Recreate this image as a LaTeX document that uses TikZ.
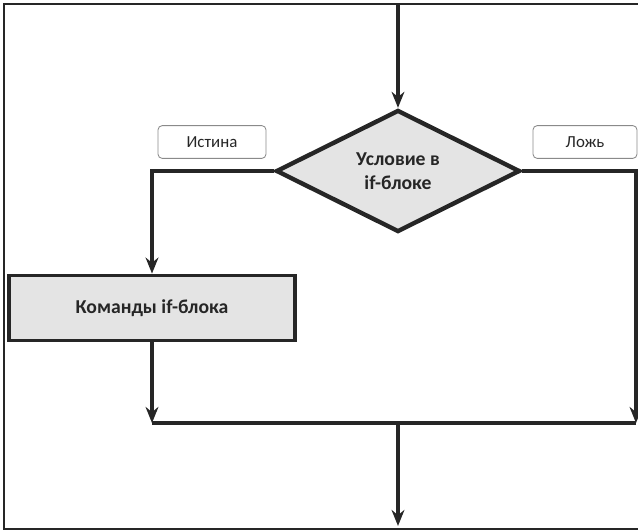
\documentclass[tikz,border=0pt]{standalone}
\usepackage{fontspec}
\setmainfont{Carlito}
\usetikzlibrary{arrows.meta, shapes.geometric}
\definecolor{Ink}{HTML}{262626}
\definecolor{Shade}{HTML}{E4E4E4}
\definecolor{Tag}{HTML}{8A8A8A}
\begin{document}
\begin{tikzpicture}[x=0.25mm,y=-0.25mm,text=Ink,
  decision/.style={diamond,draw=Ink,fill=Shade,line width=1.1mm,aspect=2,inner sep=0pt,minimum width=61mm,minimum height=30.5mm,align=center,font=\fontsize{14}{17}\selectfont\bfseries},
  process/.style={rectangle,draw=Ink,fill=Shade,line width=0.9mm,minimum width=71.5mm,minimum height=16.3mm,align=center,font=\fontsize{14}{17}\selectfont\bfseries},
  tag/.style={rectangle,draw=Tag,fill=white,rounded corners=3pt,line width=0.6pt,minimum height=8.2mm,font=\fontsize{12}{14}\selectfont},
  flow/.style={line width=1mm,draw=Ink,-{Stealth[length=4mm,width=3.2mm]}},
  line/.style={line width=1mm,draw=Ink}]
\useasboundingbox (0,0) rectangle (638,532);
\draw[Ink,line width=1.3pt] (4,4) rectangle (660,529);
\node[decision] (cond) at (398,171){Условие в\\if-блоке};
\node[process] (body) at (152,308){Команды if-блока};
\node[tag,minimum width=27mm] (yes) at (212,142){Истина};
\node[tag,minimum width=26mm] (no) at (585,142){Ложь};
\coordinate (start) at (398,4);
\coordinate (lturn) at (152,171);\coordinate (rturn) at (636,171);
\coordinate (lmerge) at (152,423);\coordinate (rmerge) at (636,423);
\coordinate (merge) at (398,423);\coordinate (finish) at (398,526);
\draw[flow] (start) -- (cond.north);
\draw[flow] (cond.west) -- (lturn) -- (body.north);
\draw[flow] (body.south) -- (lmerge);
\draw[flow] (cond.east) -- (rturn) -- (rmerge);
\draw[line] (lmerge) -- (rmerge);
\draw[flow] (merge) -- (finish);
\end{tikzpicture}
\end{document}
